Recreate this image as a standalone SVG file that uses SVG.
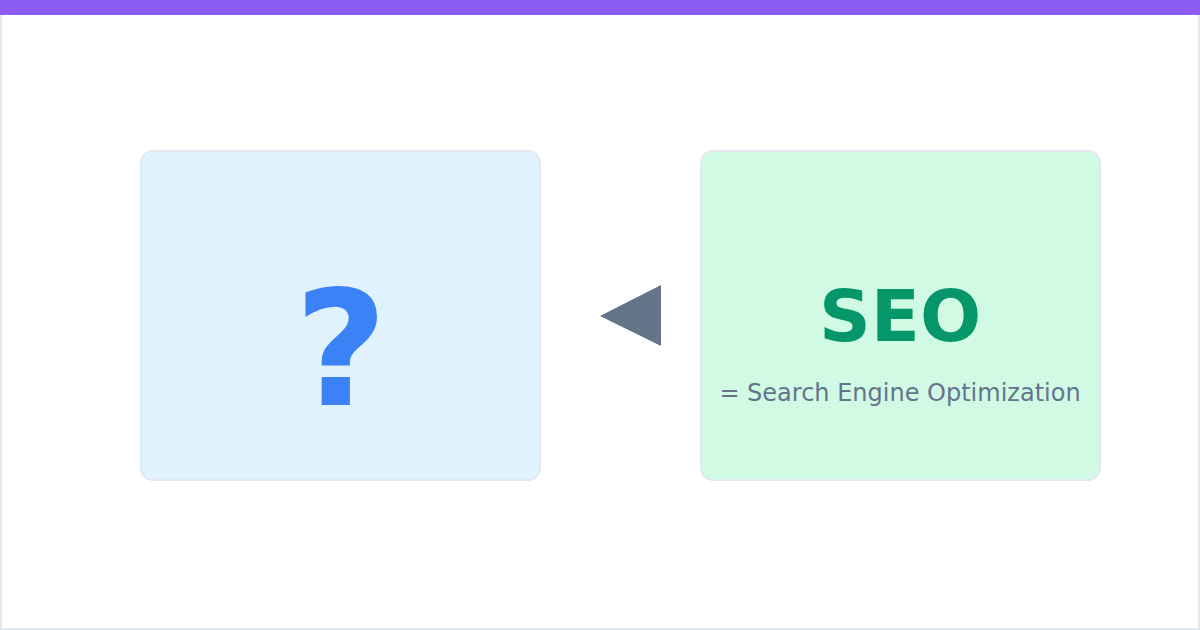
<svg xmlns="http://www.w3.org/2000/svg" width="1200" height="630" viewBox="0 0 1200 630">
<style>
.box{stroke:#e2e8f0;stroke-width:2}
.t{font-family:"DejaVu Sans",sans-serif;text-anchor:middle}
</style>
<rect x="1" y="1" width="1198" height="628" fill="#ffffff" stroke="#e2e8f0" stroke-width="2"/>
<rect x="0" y="0" width="1200" height="15" fill="#8b5cf6"/>
<g id="node-question">
<rect class="box" x="141" y="151" width="399" height="329" rx="12" fill="#e0f2fe"/>
<text class="t" x="341" y="405" font-size="160" font-weight="bold" fill="#3b82f6">?</text>
</g>
<g id="node-seo">
<rect class="box" x="701" y="151" width="399" height="329" rx="12" fill="#d1fae5"/>
<text class="t" x="900" y="341" font-size="72" font-weight="bold" fill="#059669">SEO</text>
<text class="t" x="900" y="401" font-size="24" fill="#64748b">= Search Engine Optimization</text>
</g>
<g id="connectors">
<polygon points="600,316 661,285 661,346" fill="#64748b"/>
</g>
</svg>
